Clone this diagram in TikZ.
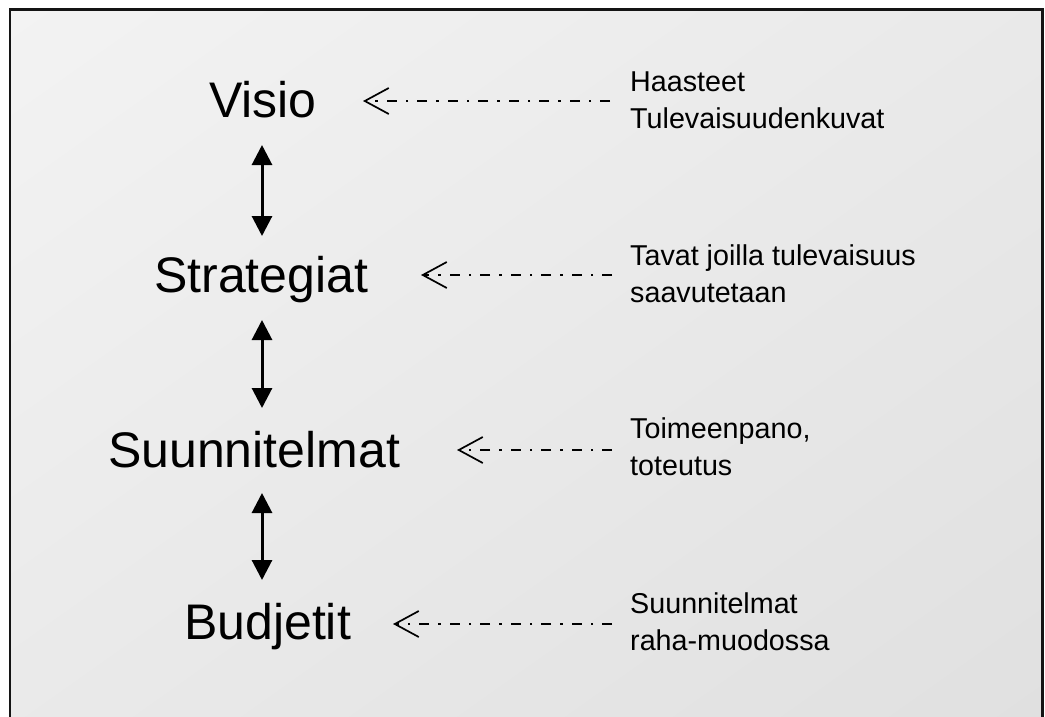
\documentclass[tikz,border=0pt]{standalone}
\usepackage{fontspec}
\setmainfont{Liberation Sans}
\usetikzlibrary{arrows.meta}
% light grey fade running from the upper left to the lower right
\pgfdeclarefunctionalshading{panelfade}{\pgfpoint{0bp}{0bp}}{\pgfpoint{100bp}{100bp}}{}{
  sub 100 add 200 div -0.15 mul 0.99 add dup dup
}
\begin{document}
\begin{tikzpicture}[x=1pt,y=-1pt,
  word/.style={anchor=base west,inner sep=0pt,font=\fontsize{50}{60}\selectfont},
  note/.style={anchor=base west,inner sep=0pt,align=left,font=\fontsize{28.7}{36.5}\selectfont},
  link/.style={line width=3pt,{Triangle[length=20pt,width=20pt]}-{Triangle[length=20pt,width=20pt]}},
  hint/.style={line width=1.7pt,dash pattern=on 10pt off 9pt on 2.5pt off 9pt,
    -{Straight Barb[length=24pt,width=26pt,line width=1.7pt]}}]
\useasboundingbox (0,0) rectangle (1045,716);
% framed panel, open past the lower edge
\begin{scope}
  \clip (0,0) rectangle (1045,716);
  \shade[shading=panelfade] (10,9.5) rectangle (1042.5,740);
  \draw[line width=2.6pt, black!92] (10,9.5) rectangle (1042.5,740);
\end{scope}

% levels of the planning chain
\node[word] (w1) at (209,117) {Visio};
\node[word] (w2) at (154,292) {Strategiat};
\node[word] (w3) at (108,467) {Suunnitelmat};
\node[word] (w4) at (184,639) {Budjetit};

% explanations on the right (anchored on the last line)
\node[note] (n1) at (630,128) {Haasteet\\Tulevaisuudenkuvat};
\node[note] (n2) at (630,302) {Tavat joilla tulevaisuus\\saavutetaan};
\node[note] (n3) at (630,475) {Toimeenpano,\\toteutus};
\node[note] (n4) at (630,650) {Suunnitelmat\\raha-muodossa};

% end points of the connectors
\coordinate (a1) at (262,145); \coordinate (b1) at (262,236);
\coordinate (a2) at (262,320); \coordinate (b2) at (262,408);
\coordinate (a3) at (262,493); \coordinate (b3) at (262,580);

\coordinate (t1) at (363,101); \coordinate (s1) at (610,101);
\coordinate (t2) at (421,275); \coordinate (s2) at (612,275);
\coordinate (t3) at (457,450); \coordinate (s3) at (612,450);
\coordinate (t4) at (393,624); \coordinate (s4) at (612,624);

% two-way links between the levels
\draw[link] (a1) -- (b1);
\draw[link] (a2) -- (b2);
\draw[link] (a3) -- (b3);

% dash-dot pointers from the explanations
\draw[hint] (s1) -- (t1);
\draw[hint] (s2) -- (t2);
\draw[hint] (s3) -- (t3);
\draw[hint] (s4) -- (t4);
\end{tikzpicture}
\end{document}
